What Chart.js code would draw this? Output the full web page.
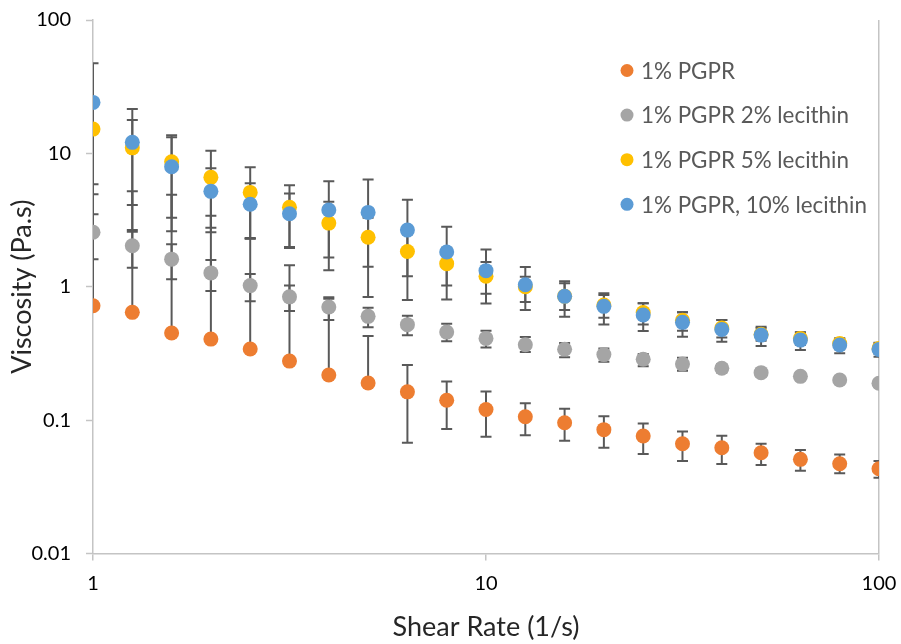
<!DOCTYPE html>
<html>
<head>
<meta charset="utf-8">
<script src="https://cdn.jsdelivr.net/npm/chart.js@4.4.1/dist/chart.umd.min.js"></script>
<style>
  html, body { margin: 0; padding: 0; background: #ffffff; }
  #chart { display: block; }
</style>
</head>
<body>
<canvas id="chart" width="901" height="644"></canvas>
<script>
// Shear rates (1/s), shared by every series
const shearRate = [1, 1.259, 1.585, 1.995, 2.512, 3.162, 3.981, 5.012, 6.31, 7.943, 10, 12.59, 15.85, 19.95, 25.12, 31.62, 39.81, 50.12, 63.1, 79.43, 100];

// Axis tick labels
const xTicks = [1, 10, 100];
const yTicks = [0.01, 0.1, 1, 10, 100];

// Series names
const seriesNames = ['1% PGPR', '1% PGPR 2% lecithin', '1% PGPR 5% lecithin', '1% PGPR, 10% lecithin'];

// Viscosity (Pa.s) per series
const pgpr = [0.72, 0.643, 0.45, 0.405, 0.341, 0.277, 0.218, 0.19, 0.163, 0.141, 0.12, 0.106, 0.0956, 0.0848, 0.076, 0.0665, 0.062, 0.057, 0.0508, 0.0471, 0.0432];
const lec2 = [2.56, 2.03, 1.61, 1.27, 1.02, 0.84, 0.705, 0.60, 0.52, 0.457, 0.41, 0.367, 0.34, 0.31, 0.286, 0.263, 0.245, 0.227, 0.213, 0.20, 0.189];
const lec5 = [15.2, 11.0, 8.65, 6.61, 5.10, 3.94, 3.0, 2.35, 1.84, 1.49, 1.20, 1.0, 0.85, 0.73, 0.64, 0.56, 0.49, 0.44, 0.41, 0.375, 0.345];
const lec10 = [24.1, 12.1, 7.94, 5.19, 4.15, 3.53, 3.76, 3.61, 2.66, 1.82, 1.32, 1.035, 0.847, 0.713, 0.614, 0.541, 0.479, 0.434, 0.398, 0.366, 0.339];

// Error bar ends (upper / lower); null = no lower whisker on the log axis
const pgprHigh = [5.86, 5.19, 4.9, 3.41, 2.3, 1.45, 0.813, 0.427, 0.259, 0.195, 0.164, 0.134, 0.1217, 0.107, 0.0945, 0.0822, 0.0763, 0.0665, 0.0597, 0.0553, 0.0494];
const pgprLow = [null, null, null, null, null, null, null, null, 0.0677, 0.0857, 0.075, 0.077, 0.070, 0.0621, 0.0557, 0.0494, 0.0468, 0.046, 0.0417, 0.040, 0.037];
const lec2High = [3.49, 2.66, 2.08, 1.59, 1.245, 1.02, 0.833, 0.696, 0.606, 0.528, 0.468, 0.42, 0.378, 0.345, 0.313, 0.293, 0.262, 0.242, 0.226, 0.212, 0.20];
const lec2Low = [1.61, 1.39, 1.136, 0.93, 0.78, 0.658, 0.563, 0.496, 0.432, 0.39, 0.351, 0.324, 0.296, 0.274, 0.254, 0.235, 0.228, 0.212, 0.2, 0.188, 0.178];
const lec5High = [25.5, 17.8, 13.7, 10.45, 7.86, 5.78, 4.34, 3.29, 2.48, 1.96, 1.53, 1.19, 1.06, 0.866, 0.751, 0.643, 0.563, 0.49, 0.454, 0.41, 0.375];
const lec5Low = [4.93, 4.1, 3.29, 2.77, 2.32, 1.99, 1.66, 1.41, 1.2, 1.024, 0.886, 0.768, 0.669, 0.586, 0.522, 0.468, 0.417, 0.394, 0.366, 0.34, 0.315];
const lec10High = [47.3, 21.5, 13.2, 7.74, 5.96, 5.0, 6.17, 6.38, 4.49, 2.82, 1.906, 1.405, 1.10, 0.892, 0.751, 0.643, 0.563, 0.501, 0.455, 0.41, 0.38];
const lec10Low = [null, 2.58, 2.61, 2.56, 2.29, 1.95, 1.33, 0.837, 0.795, 0.804, 0.75, 0.669, 0.596, 0.522, 0.466, 0.422, 0.387, 0.359, 0.335, 0.317, 0.299];

const colors = ['#ED7D31', '#A5A5A5', '#FFC000', '#5B9BD5'];
const values = [pgpr, lec2, lec5, lec10];
const highs = [pgprHigh, lec2High, lec5High, lec10High];
const lows = [pgprLow, lec2Low, lec5Low, lec10Low];

const FONT = 'Lato, "Open Sans", "Liberation Sans", sans-serif';
const AXIS_COLOR = '#c4c4c4';

// Vertical error bars with caps, drawn under the markers
const errorBars = {
  id: 'errorBars',
  beforeDatasetsDraw(chart) {
    const { ctx, scales: { x, y }, chartArea } = chart;
    ctx.save();
    ctx.beginPath();
    ctx.rect(chartArea.left, chartArea.top, chartArea.right - chartArea.left, chartArea.bottom - chartArea.top);
    ctx.clip();
    ctx.strokeStyle = '#595959';
    ctx.lineWidth = 2;
    const cap = 5.5;
    values.forEach((vals, s) => {
      vals.forEach((v, i) => {
        const px = x.getPixelForValue(shearRate[i]);
        const pv = y.getPixelForValue(v);
        const hi = highs[s][i];
        const lo = lows[s][i];
        const top = hi != null ? y.getPixelForValue(hi) : pv;
        const bottom = lo != null ? y.getPixelForValue(lo) : pv;
        ctx.beginPath();
        ctx.moveTo(px, top);
        ctx.lineTo(px, bottom);
        if (hi != null) { ctx.moveTo(px - cap, top); ctx.lineTo(px + cap, top); }
        if (lo != null) { ctx.moveTo(px - cap, bottom); ctx.lineTo(px + cap, bottom); }
        ctx.stroke();
      });
    });
    ctx.restore();
  }
};

// Legend placed inside the plot, top right
const insideLegend = {
  id: 'insideLegend',
  afterDraw(chart) {
    const { ctx, chartArea } = chart;
    ctx.save();
    ctx.font = '22.4px ' + FONT;
    ctx.textBaseline = 'middle';
    ctx.textAlign = 'left';
    const x0 = chartArea.right - 252;
    seriesNames.forEach((name, i) => {
      const yc = chartArea.top + 50.5 + i * 44.6;
      ctx.fillStyle = colors[i];
      ctx.beginPath();
      ctx.arc(x0, yc, 6.5, 0, Math.PI * 2);
      ctx.fill();
      ctx.fillStyle = '#595959';
      ctx.fillText(name, x0 + 14, yc + 1);
    });
    ctx.restore();
  }
};

const datasets = values.map((vals, s) => ({
  label: seriesNames[s],
  data: vals.map((v, i) => ({ x: shearRate[i], y: v })),
  backgroundColor: colors[s],
  borderColor: colors[s],
  borderWidth: 0,
  pointRadius: 7.5,
  pointHoverRadius: 7.5,
  showLine: false,
  order: 4 - s
}));

new Chart(document.getElementById('chart'), {
  type: 'scatter',
  data: { datasets },
  plugins: [errorBars, insideLegend],
  options: {
    responsive: false,
    animation: false,
    devicePixelRatio: 1,
    layout: { padding: { left: 0, right: 22, top: 20, bottom: 0 } },
    plugins: {
      legend: { display: false },
      tooltip: { enabled: false }
    },
    scales: {
      x: {
        type: 'logarithmic',
        min: 1,
        max: 100,
        afterBuildTicks: (scale) => { scale.ticks = xTicks.map(v => ({ value: v })); },
        afterFit: (scale) => {
          scale.height = 90.5;
          scale.paddingLeft = 0;
          scale.paddingRight = 0;
        },
        ticks: {
          color: '#000000',
          font: { family: FONT, size: 20 },
          padding: 11,
          autoSkip: false,
          maxRotation: 0,
          callback: (v) => String(v)
        },
        grid: {
          drawOnChartArea: true,
          color: (c) => (c.tick && c.tick.value === 100 ? AXIS_COLOR : 'rgba(0,0,0,0)'),
          lineWidth: 1.5,
          tickColor: AXIS_COLOR,
          tickLength: 7,
          tickWidth: 1.5
        },
        border: { display: true, color: AXIS_COLOR, width: 1.5 },
        title: {
          display: true,
          text: 'Shear Rate (1/s)',
          color: '#262626',
          font: { family: FONT, size: 27 },
          padding: { top: 0, bottom: 1 }
        }
      },
      y: {
        type: 'logarithmic',
        min: 0.01,
        max: 100,
        afterBuildTicks: (scale) => { scale.ticks = yTicks.map(v => ({ value: v })); },
        afterFit: (scale) => {
          scale.width = 93;
          scale.paddingTop = 0;
          scale.paddingBottom = 0;
        },
        ticks: {
          color: '#000000',
          font: { family: FONT, size: 20 },
          padding: 15,
          autoSkip: false,
          callback: (v) => String(v)
        },
        grid: {
          drawOnChartArea: false,
          tickColor: AXIS_COLOR,
          tickLength: 7,
          tickWidth: 1.5
        },
        border: { display: true, color: AXIS_COLOR, width: 1.5 },
        title: {
          display: true,
          text: 'Viscosity (Pa.s)',
          color: '#262626',
          font: { family: FONT, size: 27 },
          padding: { top: 6, bottom: 0 }
        }
      }
    }
  }
});
</script>
</body>
</html>
